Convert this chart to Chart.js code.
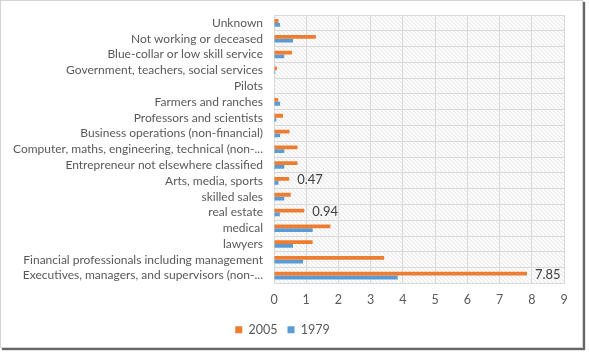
<!DOCTYPE html>
<html><head><meta charset="utf-8">
<script src="https://cdn.jsdelivr.net/npm/chart.js@4"></script>
<style>
html,body{margin:0;padding:0;background:#fff;}
#frame{position:absolute;left:0;top:0;width:581px;height:346px;border:1px solid #d4d4d4;box-shadow:2px 2px 1px #666;background:#fff;}
canvas{display:block;}
</style></head><body>
<div id="frame"><canvas id="c" width="581" height="346"></canvas></div>
<script>
const categories = [
  "Unknown",
  "Not working or deceased",
  "Blue-collar or low skill service",
  "Government, teachers, social services",
  "Pilots",
  "Farmers and ranches",
  "Professors and scientists",
  "Business operations (non-financial)",
  "Computer, maths, engineering, technical (non-...",
  "Entrepreneur not elsewhere classified",
  "Arts, media, sports",
  "skilled sales",
  "real estate",
  "medical",
  "lawyers",
  "Financial professionals including management",
  "Executives, managers, and supervisors (non-..."
];
const values2005 = [0.14, 1.30, 0.56, 0.09, 0, 0.13, 0.28, 0.48, 0.73, 0.73, 0.47, 0.52, 0.94, 1.75, 1.20, 3.42, 7.85];
const values1979 = [0.19, 0.59, 0.32, 0.04, 0, 0.19, 0.07, 0.19, 0.32, 0.32, 0.14, 0.32, 0.18, 1.20, 0.59, 0.90, 3.84];
const labelled2005 = ["Arts, media, sports", "real estate", "Executives, managers, and supervisors (non-..."];
const xTicks = [0,1,2,3,4,5,6,7,8,9];

const FONT = "Lato";
const hatch = {
  id:'hatch',
  beforeDraw(chart){
    const a = chart.chartArea, ctx = chart.ctx;
    ctx.save();
    ctx.beginPath(); ctx.rect(a.left,a.top,a.right-a.left,a.bottom-a.top); ctx.clip();
    ctx.fillStyle='#fff'; ctx.fillRect(a.left,a.top,a.right-a.left,a.bottom-a.top);
    ctx.strokeStyle='#dedede'; ctx.lineWidth=1;
    const h = a.bottom-a.top;
    ctx.beginPath();
    for(let x=a.left-h; x<a.right+h; x+=4){
      ctx.moveTo(x, a.top); ctx.lineTo(x+h, a.bottom);
    }
    ctx.stroke();
    ctx.restore();
  }
};
const dataLabels = {
  id:'dl',
  afterDatasetsDraw(chart){
    const ctx = chart.ctx;
    const meta = chart.getDatasetMeta(0);
    ctx.save();
    ctx.font = "13px " + FONT;
    ctx.fillStyle = '#404040';
    ctx.textBaseline = 'middle';
    ctx.textAlign = 'left';
    categories.forEach((c,i)=>{
      if(labelled2005.includes(c)){
        const el = meta.data[i];
        ctx.fillText(values2005[i].toFixed(2), el.x+8, el.y+1);
      }
    });
    ctx.restore();
  }
};

new Chart(document.getElementById('c'), {
  type:'bar',
  data:{
    labels: categories,
    datasets:[
      {label:'2005', data: values2005, backgroundColor:'#ED7D31', categoryPercentage:0.48, barPercentage:1.0},
      {label:'1979', data: values1979, backgroundColor:'#5B9BD5', categoryPercentage:0.48, barPercentage:1.0}
    ]
  },
  options:{
    indexAxis:'y',
    responsive:false,
    animation:false,
    layout:{padding:{left:0,right:18,top:14,bottom:1}},
    plugins:{
      legend:{position:'bottom', labels:{boxWidth:7, boxHeight:7, color:'#595959', font:{family:FONT,size:12.5}, padding:10}},
      tooltip:{enabled:false}
    },
    scales:{
      x:{
        min:0, max:9,
        afterBuildTicks(s){ s.ticks = xTicks.map(v=>({value:v})); },
        grid:{color:'#d9d9d9', drawTicks:false},
        border:{color:'#d9d9d9'},
        ticks:{color:'#595959', font:{family:FONT,size:12.5}, padding:9},
        afterFit(s){ s.height = 30; }
      },
      y:{
        grid:{color:'#d9d9d9', drawTicks:false, offset:true},
        border:{color:'#d9d9d9'},
        ticks:{color:'#595959', font:{family:FONT,size:12}, padding:11, autoSkip:false},
        afterFit(s){ s.width = 273; s.paddingTop = 0; s.paddingBottom = 0; }
      }
    }
  },
  plugins:[hatch, dataLabels]
});
</script>
</body></html>
